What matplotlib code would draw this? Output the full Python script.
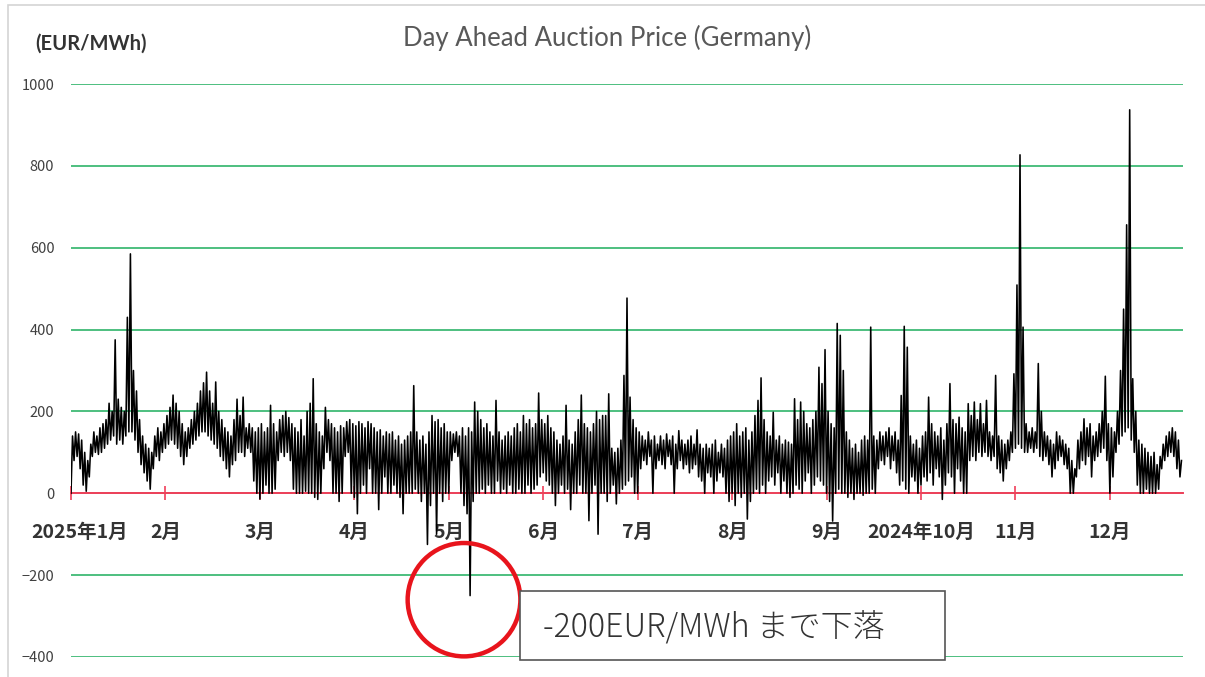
import numpy as np
import matplotlib
matplotlib.use('Agg')
import matplotlib.pyplot as plt
import matplotlib.transforms as mtransforms
from matplotlib.patches import Ellipse, Rectangle

# daily low / high of the hourly day-ahead price (EUR/MWh), one list per 31-day block
lo1 = [0, 80, 90, 60, 20, 5, 40, 90, 100, 95, 100, 110, 120, 130, 140, 120, 130, 120, 140, 150, 150, 130, 100, 70, 50, 30, 10, 60, 90, 80, 100]
hi1 = [140, 150, 145, 130, 100, 80, 120, 150, 140, 160, 170, 180, 220, 200, 375, 230, 210, 200, 430, 585, 300, 250, 180, 140, 120, 110, 100, 140, 160, 150, 170]
lo2 = [110, 120, 130, 120, 110, 90, 70, 90, 110, 120, 130, 140, 150, 150, 140, 130, 120, 110, 90, 80, 60, 40, 70, 80, 100, 100, 90, 110, 100, 30, 0]
hi2 = [190, 210, 240, 220, 200, 170, 150, 160, 180, 200, 220, 250, 270, 296, 250, 220, 272, 200, 180, 160, 150, 140, 180, 230, 190, 235, 160, 170, 160, 150, 160]
lo3 = [-14, 0, 20, 0, 0, 10, 80, 100, 90, 100, 80, 10, 0, 0, 0, 5, 0, 0, -10, -15, 0, 60, 100, 80, 0, 0, -20, 0, 90, 100, 0]
hi3 = [170, 150, 160, 215, 170, 150, 180, 190, 200, 185, 170, 160, 150, 180, 140, 200, 220, 280, 170, 150, 140, 210, 180, 170, 160, 150, 165, 160, 175, 180, 170]
lo4 = [-10, -50, 0, 20, 0, 60, 0, 0, -40, 0, 40, 0, 0, 20, 0, -10, -50, 0, 0, 0, 10, 0, -20, 0, -125, -30, 0, -100, 0, -20, 0]
hi4 = [165, 175, 170, 160, 175, 170, 160, 150, 155, 140, 150, 145, 150, 130, 140, 120, 130, 140, 150, 263, 150, 130, 140, 120, 150, 190, 175, 180, 160, 170, 150]
lo5 = [0, 80, 100, 90, 0, -30, -50, -250, -20, 0, 0, 10, 0, 20, 0, 0, 30, 0, 10, 0, 20, 0, 0, 10, 0, 0, 20, 0, 10, 20, 40]
hi5 = [150, 145, 150, 140, 160, 140, 160, 150, 223, 200, 180, 160, 170, 150, 140, 227, 150, 130, 140, 150, 140, 160, 170, 150, 190, 170, 180, 160, 170, 245, 180]
lo6 = [50, 30, 20, 0, -30, 0, 20, 0, 10, -40, 0, 0, 20, 0, 0, -67, 0, 20, -100, 0, 0, -20, 0, 20, -26, 0, 10, 20, 30, 40, 0]
hi6 = [170, 190, 160, 150, 130, 120, 140, 215, 130, 120, 150, 180, 240, 170, 160, 150, 170, 200, 180, 190, 190, 243, 110, 100, 110, 130, 288, 477, 235, 180, 160]
lo7 = [0, 60, 80, 70, 90, 0, 60, 80, 70, 60, 90, 70, 0, 60, 80, 60, 70, 50, 60, 70, 40, 30, 0, 50, 40, 0, 30, 50, 40, 0, -20]
hi7 = [150, 140, 130, 150, 130, 140, 120, 140, 130, 145, 130, 140, 120, 153, 130, 120, 130, 140, 120, 155, 120, 110, 120, 110, 120, 130, 100, 120, 110, 130, 140]
lo8 = [0, -30, 0, -10, 0, -63, -20, 0, 10, 0, 20, 0, 30, 40, 20, 50, 0, 30, 0, -10, 0, 20, 10, 0, 30, 50, 0, 20, 40, 30, 20]
hi8 = [150, 170, 140, 150, 160, 130, 150, 190, 227, 282, 180, 150, 140, 198, 130, 140, 120, 130, 125, 120, 231, 180, 223, 200, 170, 160, 180, 200, 308, 268, 351]
lo9 = [0, -20, -68, 0, 10, 0, 0, -10, 0, -15, 0, 0, -5, 0, 0, 10, 0, 60, 80, 70, 90, 60, 80, 50, 20, 30, 10, 0, 40, 30, 0]
hi9 = [200, 170, 160, 415, 386, 300, 150, 130, 110, 120, 100, 130, 140, 130, 406, 140, 130, 150, 140, 150, 160, 140, 150, 130, 239, 408, 357, 140, 120, 130, 110]
lo10 = [20, 40, 30, 50, 20, 60, 40, -15, 20, 50, 40, 0, 60, 30, 0, 0, 80, 90, 80, 100, 90, 100, 90, 80, 90, 60, 50, 30, 60, 80, 100]
hi10 = [140, 150, 235, 170, 150, 140, 160, 130, 170, 268, 180, 170, 186, 160, 150, 219, 190, 223, 180, 219, 170, 227, 150, 140, 288, 140, 130, 120, 130, 150, 292]
lo11 = [110, 120, 110, 100, 100, 110, 100, 110, 90, 80, 90, 70, 40, 60, 80, 90, 70, 60, 0, 0, 40, 60, 80, 70, 90, 40, 80, 90, 100, 110, 80]
hi11 = [509, 827, 406, 170, 150, 160, 150, 317, 200, 150, 140, 130, 120, 150, 140, 130, 120, 110, 80, 60, 130, 150, 182, 160, 170, 140, 150, 170, 200, 286, 170]
lo12 = [0, 40, 100, 120, 140, 150, 160, 130, 100, 20, 0, 0, 10, 0, 0, 0, 10, 60, 80, 90, 100, 90, 60, 40]
hi12 = [160, 150, 200, 300, 450, 656, 937, 280, 200, 130, 120, 110, 100, 90, 100, 70, 90, 120, 140, 150, 160, 150, 130, 80]

month_labels = ['2025年1月', '2月', '3月', '4月', '5月', '6月', '7月', '8月', '9月',
                '2024年10月', '11月', '12月']
y_ticks = [-400, -200, 0, 200, 400, 600, 800, 1000]

plt.rcParams['font.family'] = ['Noto Sans CJK JP', 'DejaVu Sans']

lo = np.array(lo1 + lo2 + lo3 + lo4 + lo5 + lo6 + lo7 + lo8 + lo9 + lo10 + lo11 + lo12)
hi = np.array(hi1 + hi2 + hi3 + hi4 + hi5 + hi6 + hi7 + hi8 + hi9 + hi10 + hi11 + hi12)
days = np.arange(len(lo))

# each day: low then high -> zigzag trace
xs = np.column_stack([days, days + 0.5]).ravel()
ys = np.column_stack([lo, hi]).ravel()

W, H = 1205, 677
fig = plt.figure(figsize=(W / 100, H / 100), dpi=100)
fig.patch.set_facecolor('white')

# light frame round the chart
fig.patches.append(Rectangle((8 / W, -0.1), 1.2, 1.1 - 5 / H, transform=fig.transFigure,
                             fill=False, edgecolor='#d4d4d4', lw=1.2))

ax = fig.add_axes([71 / W, 1 - 657 / H, (1183 - 71) / W, (657 - 84) / H])
ax.set_xlim(0, len(lo))
ax.set_ylim(-400, 1000)

ax.plot(xs, ys, color='black', lw=1.15, zorder=3)

# grid
ax.set_yticks(y_ticks)
ax.yaxis.grid(True, color='#4dbf7f', lw=1.4)
ax.set_axisbelow(True)
ax.tick_params(axis='y', length=0, pad=12, labelsize=10.5, labelcolor='#404040')

for s in ['top', 'right', 'left']:
    ax.spines[s].set_visible(False)
ax.spines['bottom'].set_position(('data', 0))
ax.spines['bottom'].set_color('#f0405a')
ax.spines['bottom'].set_linewidth(1.4)
ax.spines['bottom'].set_zorder(2)

ax.set_xticks(np.arange(0, len(lo), 31))
ax.set_xticklabels(month_labels, fontsize=14, fontweight='bold', color='#333333')
ax.tick_params(axis='x', direction='inout', length=10, width=1.2, color='#f0405a', pad=16)
first = ax.get_xticklabels()[0]
first.set_transform(first.get_transform() + mtransforms.ScaledTranslation(9 / 100, 0, fig.dpi_scale_trans))

# title and unit
fig.text(0.504, 1 - 38 / H, 'Day Ahead Auction Price (Germany)', ha='center', va='center',
         fontsize=18.5, color='#595959', family=['Lato', 'DejaVu Sans'])
fig.text(35 / W, 1 - 44 / H, '(EUR/MWh)', ha='left', va='center', fontsize=14.5,
         fontweight='bold', color='#333333', family=['Lato', 'DejaVu Sans'])

# annotation of the negative price
dmin = days[np.argmin(lo)]
ax.add_patch(Ellipse((dmin - 2, lo.min() - 10), 37, 277, fill=False, edgecolor='#e8141c',
                     lw=3.2, zorder=4, clip_on=False))
fig.patches.append(Rectangle((520 / W, 1 - 660 / H), 425 / W, 69 / H, transform=fig.transFigure,
                             fill=True, facecolor='white', edgecolor='#555555', lw=1.2, zorder=5))
fig.text(543 / W, 1 - 628 / H, '-200EUR/MWh まで下落', ha='left', va='center', fontsize=23,
         fontweight='light', color='#333333', zorder=6)

fig.savefig('out.png', dpi=100)
